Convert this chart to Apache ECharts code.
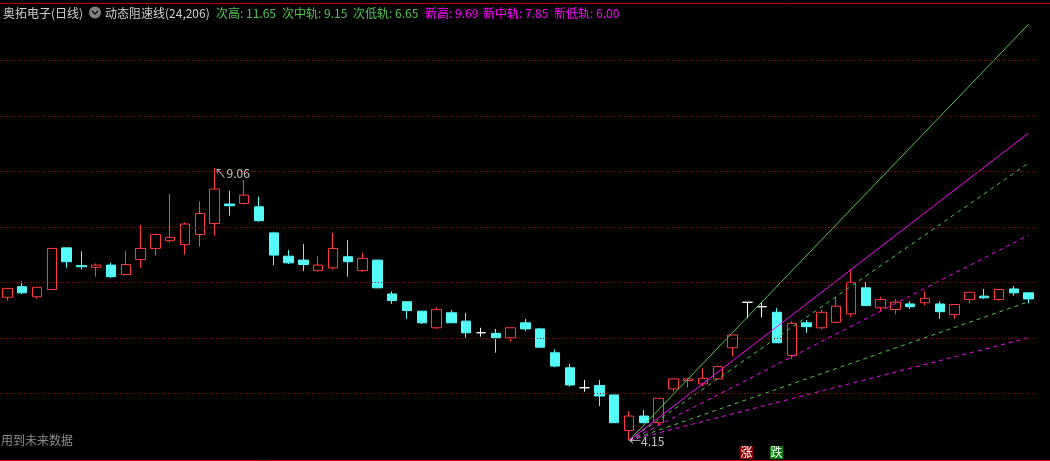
<!DOCTYPE html>
<html><head><meta charset="utf-8">
<script src="https://cdn.jsdelivr.net/npm/echarts@6/dist/echarts.min.js"></script>
<style>html,body{margin:0;padding:0;background:#000;overflow:hidden;} #c{width:1050px;height:461px;}</style>
</head><body><div id="c"></div>
<script>
// ---------------- data ----------------
const stockName = '奥拓电子(日线)';
const indicatorName = '动态阻速线(24,206)';
const opens = [6.73, 6.92, 6.74, 6.87, 7.62, 7.30, 7.27, 7.31, 7.14, 7.41,
  7.61, 7.75, 7.68, 7.86, 8.06, 8.41, 8.42, 8.36, 7.89, 7.47,
  7.40, 7.21, 7.26, 7.46, 7.21, 7.40, 6.79, 6.65, 6.48, 6.18,
  6.45, 6.30, 6.09, 6.08, 6.00, 6.27, 6.16, 5.73, 5.46, 5.10,
  5.14, 4.97, 4.33, 4.59, 4.47, 5.08, 5.23, 5.17, 5.26, 5.82,
  6.64, 6.56, 6.46, 5.68, 6.27, 6.18, 6.28, 6.43, 6.90, 6.54,
  6.51, 6.61, 6.63, 6.61, 6.42, 6.69, 6.75, 6.69, 6.88, 6.81];
const closes = [6.89, 6.81, 6.91, 7.61, 7.37, 7.28, 7.31, 7.10, 7.32, 7.61,
  7.86, 7.81, 8.05, 8.24, 8.68, 8.38, 8.57, 8.11, 7.49, 7.35,
  7.32, 7.31, 7.61, 7.37, 7.43, 6.90, 6.67, 6.49, 6.27, 6.51,
  6.27, 6.09, 6.09, 6.00, 6.18, 6.16, 5.83, 5.49, 5.15, 5.10,
  4.95, 4.47, 4.59, 4.47, 4.91, 5.26, 5.26, 5.27, 5.48, 6.05,
  6.64, 6.56, 5.91, 6.26, 6.20, 6.46, 6.57, 7.00, 6.58, 6.69,
  6.64, 6.56, 6.71, 6.47, 6.60, 6.82, 6.72, 6.87, 6.81, 6.70];
const lows = [6.67, 6.79, 6.70, 6.87, 7.26, 7.23, 7.10, 7.08, 7.14, 7.26,
  7.48, 7.71, 7.50, 7.64, 7.84, 8.20, 8.40, 8.09, 7.31, 7.33,
  7.20, 7.19, 7.23, 7.10, 7.19, 6.90, 6.61, 6.34, 6.25, 6.16,
  6.27, 6.00, 6.02, 5.73, 5.93, 6.12, 5.83, 5.47, 5.12, 5.03,
  4.77, 4.47, 4.15, 4.46, 4.42, 5.03, 5.10, 5.13, 5.26, 5.66,
  6.35, 6.37, 5.91, 5.62, 6.09, 6.15, 6.26, 6.38, 6.58, 6.48,
  6.42, 6.52, 6.58, 6.34, 6.34, 6.62, 6.70, 6.67, 6.76, 6.62];
const highs = [6.89, 7.02, 6.91, 7.61, 7.62, 7.56, 7.34, 7.35, 7.56, 8.03,
  7.88, 8.59, 8.08, 8.46, 9.06, 8.65, 8.84, 8.54, 7.91, 7.58,
  7.69, 7.47, 7.89, 7.76, 7.53, 7.40, 6.84, 6.65, 6.48, 6.55,
  6.50, 6.45, 6.18, 6.16, 6.18, 6.34, 6.18, 5.79, 5.53, 5.24,
  5.24, 4.97, 4.68, 4.70, 4.91, 5.27, 5.26, 5.45, 5.50, 6.05,
  6.64, 6.65, 6.54, 6.30, 6.32, 6.51, 6.73, 7.23, 7.00, 6.74,
  6.70, 6.66, 6.84, 6.66, 6.60, 6.82, 6.88, 6.87, 6.93, 6.81];
const lineNames = ['次高', '次中轨', '次低轨', '新高', '新中轨', '新低轨'];
const lineEndValues = [11.65, 9.15, 6.65, 9.69, 7.85, 6.00];
const gridLevels = [5, 6, 7, 8, 9, 10, 11];
const signalIndex = [50, 52];
const signalText = ['涨', '跌'];
const noteText = '用到未来数据';

// ---------------- build ----------------
const categories = opens.map((_, i) => String(i + 1));
const FONT = '"Noto Sans CJK SC", "DejaVu Sans", sans-serif';
const GREEN = '#52c552';
const MAGENTA = '#ff00ff';
const lineColors = [GREEN, GREEN, GREEN, MAGENTA, MAGENTA, MAGENTA];
const lineTypes = ['solid', [4, 4], [4, 4], 'solid', [4, 4], [4, 4]];

const ohlc = opens.map((o, i) => {
  const item = { value: [o, closes[i], lows[i], highs[i]] };
  if (o === closes[i]) {
    item.itemStyle = { color: '#fff', color0: '#fff', borderColor: '#fff', borderColor0: '#fff' };
  }
  return item;
});

let loIdx = 0, hiIdx = 0;
lows.forEach((v, i) => { if (v < lows[loIdx]) loIdx = i; });
highs.forEach((v, i) => { if (v > highs[hiIdx]) hiIdx = i; });
const lastIdx = opens.length - 1;

const lineSeries = lineNames.map((n, k) => ({
  name: n, type: 'line', silent: true, symbol: 'none', animation: false,
  lineStyle: { color: lineColors[k], width: 1, type: lineTypes[k] },
  data: [[loIdx, lows[loIdx]], [lastIdx, lineEndValues[k]]],
  z: 3
}));

const chart = echarts.init(document.getElementById('c'), null, { renderer: 'canvas' });
chart.setOption({
  backgroundColor: '#000',
  animation: false,
  grid: { left: -1, right: 14, top: 3, bottom: 1, containLabel: false },
  xAxis: { type: 'category', data: categories, boundaryGap: true, show: false },
  yAxis: { type: 'value', min: 3.798, max: 12.032, show: false, splitLine: { show: false } },
  series: [{
    type: 'candlestick',
    barWidth: 10,
    data: ohlc,
    itemStyle: {
      color: '#000', color0: '#54fcfc',
      borderColor: '#ff3b3b', borderColor0: '#54fcfc', borderColorDoji: '#fff', borderWidth: 1
    },
    markLine: {
      silent: true, symbol: 'none', animation: false,
      label: { show: false },
      lineStyle: { color: '#9a0000', width: 1, type: [1, 2] },
      data: gridLevels.map(v => ({ yAxis: v }))
    },
    markPoint: {
      silent: true, symbol: 'circle', symbolSize: 0, animation: false,
      label: { show: true, position: 'right', distance: 0, color: '#c8c8c8', fontSize: 12, fontFamily: FONT },
      data: [
        { coord: [hiIdx, highs[hiIdx]], value: highs[hiIdx], label: { offset: [0, 5], formatter: '↖' + highs[hiIdx].toFixed(2) } },
        { coord: [loIdx, lows[loIdx]], value: lows[loIdx], label: { offset: [0, 1], formatter: '←' + lows[loIdx].toFixed(2) } }
      ]
    }
  }].concat(lineSeries)
});

// ---------------- annotations ----------------
const headerX = [216, 282, 353, 425, 483, 554];
const g = [
  { type: 'line', shape: { x1: 0, y1: 3.5, x2: 1050, y2: 3.5 }, style: { stroke: '#c00000', lineWidth: 1 } },
  { type: 'line', shape: { x1: 0, y1: 460.5, x2: 1050, y2: 460.5 }, style: { stroke: '#c00000', lineWidth: 1 } },
  { type: 'text', x: 3, y: 13, style: { text: stockName, fill: '#d0d0d0', font: '12px ' + FONT, textVerticalAlign: 'middle' } },
  { type: 'circle', shape: { cx: 95, cy: 12.5, r: 6 }, style: { fill: '#808080' } },
  { type: 'polyline', shape: { points: [[92, 11], [95, 14], [98, 11]] }, style: { stroke: '#111', lineWidth: 1.5, fill: null } },
  { type: 'text', x: 105, y: 13, style: { text: indicatorName, fill: '#d0d0d0', font: '12px ' + FONT, textVerticalAlign: 'middle' } },
  { type: 'text', x: 1, y: 440.5, style: { text: noteText, fill: '#8c8c8c', font: '12px ' + FONT, textVerticalAlign: 'middle' } }
];
lineNames.forEach((n, k) => {
  g.push({ type: 'text', x: headerX[k], y: 13, style: { text: n + ': ' + lineEndValues[k].toFixed(2), fill: lineColors[k], font: '12px ' + FONT, textVerticalAlign: 'middle' } });
});
const sigColors = ['#8b0000', '#007a00'];
signalIndex.forEach((idx, k) => {
  const x = chart.convertToPixel({ xAxisIndex: 0 }, idx);
  g.push({ type: 'rect', shape: { x: Math.round(x) - 7, y: 446, width: 13, height: 13 }, style: { fill: sigColors[k] } });
  g.push({ type: 'text', x: Math.round(x) - 0.5, y: 452.5, style: { text: signalText[k], fill: '#fff', font: '12px ' + FONT, textAlign: 'center', textVerticalAlign: 'middle' } });
});
chart.setOption({ graphic: g });
</script>
</body></html>
